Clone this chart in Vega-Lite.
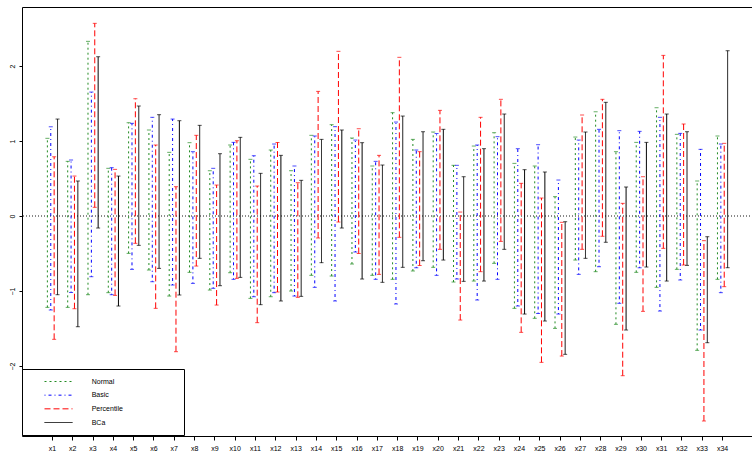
{
  "$schema": "https://vega.github.io/schema/vega-lite/v6.json",
  "width": 731,
  "height": 429,
  "autosize": "none",
  "padding": {"left": 22, "top": 7, "right": 0, "bottom": 17},
  "background": "white",
  "config": {
    "view": {"stroke": "black", "strokeWidth": 1},
    "font": "Liberation Sans",
    "axis": {"grid": false, "domain": false, "tickColor": "black", "labelColor": "black", "labelFont": "Liberation Sans", "labelFontSize": 7, "title": null}
  },
  "data": {"values": [
    {"variable":"x1","method":"Normal","lo":-1.218,"hi":1.036},{"variable":"x1","method":"Basic","lo":-1.253,"hi":1.19},{"variable":"x1","method":"Percentile","lo":-1.644,"hi":0.79},{"variable":"x1","method":"BCa","lo":-1.049,"hi":1.293},
    {"variable":"x2","method":"Normal","lo":-1.218,"hi":0.729},{"variable":"x2","method":"Basic","lo":-1.02,"hi":0.747},{"variable":"x2","method":"Percentile","lo":-1.236,"hi":0.533},{"variable":"x2","method":"BCa","lo":-1.476,"hi":0.467},
    {"variable":"x3","method":"Normal","lo":-1.049,"hi":2.329},{"variable":"x3","method":"Basic","lo":-0.809,"hi":1.653},{"variable":"x3","method":"Percentile","lo":0.116,"hi":2.569},{"variable":"x3","method":"BCa","lo":-0.16,"hi":2.124},
    {"variable":"x4","method":"Normal","lo":-1.022,"hi":0.636},{"variable":"x4","method":"Basic","lo":-1.049,"hi":0.645},{"variable":"x4","method":"Percentile","lo":-1.058,"hi":0.622},{"variable":"x4","method":"BCa","lo":-1.2,"hi":0.533},
    {"variable":"x5","method":"Normal","lo":-0.498,"hi":1.244},{"variable":"x5","method":"Basic","lo":-0.711,"hi":1.236},{"variable":"x5","method":"Percentile","lo":-0.364,"hi":1.564},{"variable":"x5","method":"BCa","lo":-0.391,"hi":1.467},
    {"variable":"x6","method":"Normal","lo":-0.72,"hi":1.147},{"variable":"x6","method":"Basic","lo":-0.876,"hi":1.316},{"variable":"x6","method":"Percentile","lo":-1.231,"hi":0.947},{"variable":"x6","method":"BCa","lo":-0.698,"hi":1.351},
    {"variable":"x7","method":"Normal","lo":-1.067,"hi":0.849},{"variable":"x7","method":"Basic","lo":-0.92,"hi":1.293},{"variable":"x7","method":"Percentile","lo":-1.809,"hi":0.391},{"variable":"x7","method":"BCa","lo":-1.053,"hi":1.271},
    {"variable":"x8","method":"Normal","lo":-0.751,"hi":0.978},{"variable":"x8","method":"Basic","lo":-0.898,"hi":0.858},{"variable":"x8","method":"Percentile","lo":-0.667,"hi":1.076},{"variable":"x8","method":"BCa","lo":-0.564,"hi":1.209},
    {"variable":"x9","method":"Normal","lo":-0.987,"hi":0.604},{"variable":"x9","method":"Basic","lo":-0.964,"hi":0.636},{"variable":"x9","method":"Percentile","lo":-1.187,"hi":0.413},{"variable":"x9","method":"BCa","lo":-0.929,"hi":0.831},
    {"variable":"x10","method":"Normal","lo":-0.756,"hi":0.947},{"variable":"x10","method":"Basic","lo":-0.844,"hi":0.982},{"variable":"x10","method":"Percentile","lo":-0.831,"hi":1.004},{"variable":"x10","method":"BCa","lo":-0.818,"hi":1.049},
    {"variable":"x11","method":"Normal","lo":-1.098,"hi":0.756},{"variable":"x11","method":"Basic","lo":-1.076,"hi":0.804},{"variable":"x11","method":"Percentile","lo":-1.422,"hi":0.4},{"variable":"x11","method":"BCa","lo":-1.182,"hi":0.569},
    {"variable":"x12","method":"Normal","lo":-1.076,"hi":0.88},{"variable":"x12","method":"Basic","lo":-1.022,"hi":0.96},{"variable":"x12","method":"Percentile","lo":-1.013,"hi":0.982},{"variable":"x12","method":"BCa","lo":-1.133,"hi":0.809},
    {"variable":"x13","method":"Normal","lo":-1.0,"hi":0.604},{"variable":"x13","method":"Basic","lo":-1.067,"hi":0.667},{"variable":"x13","method":"Percentile","lo":-1.084,"hi":0.444},{"variable":"x13","method":"BCa","lo":-1.071,"hi":0.476},
    {"variable":"x14","method":"Normal","lo":-0.791,"hi":1.076},{"variable":"x14","method":"Basic","lo":-0.951,"hi":1.067},{"variable":"x14","method":"Percentile","lo":-0.293,"hi":1.662},{"variable":"x14","method":"BCa","lo":-0.622,"hi":1.022},
    {"variable":"x15","method":"Normal","lo":-0.8,"hi":1.218},{"variable":"x15","method":"Basic","lo":-1.133,"hi":1.191},{"variable":"x15","method":"Percentile","lo":-0.08,"hi":2.196},{"variable":"x15","method":"BCa","lo":-0.16,"hi":1.147},
    {"variable":"x16","method":"Normal","lo":-0.64,"hi":1.04},{"variable":"x16","method":"Basic","lo":-0.48,"hi":1.013},{"variable":"x16","method":"Percentile","lo":-0.5,"hi":1.164},{"variable":"x16","method":"BCa","lo":-0.84,"hi":0.978},
    {"variable":"x17","method":"Normal","lo":-0.791,"hi":0.667},{"variable":"x17","method":"Basic","lo":-0.844,"hi":0.729},{"variable":"x17","method":"Percentile","lo":-0.778,"hi":0.809},{"variable":"x17","method":"BCa","lo":-0.884,"hi":0.68},
    {"variable":"x18","method":"Normal","lo":-0.844,"hi":1.378},{"variable":"x18","method":"Basic","lo":-1.173,"hi":1.253},{"variable":"x18","method":"Percentile","lo":-0.284,"hi":2.116},{"variable":"x18","method":"BCa","lo":-0.684,"hi":1.333},
    {"variable":"x19","method":"Normal","lo":-0.733,"hi":1.022},{"variable":"x19","method":"Basic","lo":-0.69,"hi":0.88},{"variable":"x19","method":"Percentile","lo":-0.66,"hi":0.858},{"variable":"x19","method":"BCa","lo":-0.596,"hi":1.124},
    {"variable":"x20","method":"Normal","lo":-0.684,"hi":1.12},{"variable":"x20","method":"Basic","lo":-0.791,"hi":1.1},{"variable":"x20","method":"Percentile","lo":-0.444,"hi":1.409},{"variable":"x20","method":"BCa","lo":-0.587,"hi":1.156},
    {"variable":"x21","method":"Normal","lo":-0.88,"hi":0.676},{"variable":"x21","method":"Basic","lo":-0.84,"hi":0.676},{"variable":"x21","method":"Percentile","lo":-1.387,"hi":0.053},{"variable":"x21","method":"BCa","lo":-0.871,"hi":0.524},
    {"variable":"x22","method":"Normal","lo":-0.867,"hi":0.933},{"variable":"x22","method":"Basic","lo":-1.12,"hi":0.947},{"variable":"x22","method":"Percentile","lo":-0.742,"hi":1.316},{"variable":"x22","method":"BCa","lo":-0.867,"hi":0.898},
    {"variable":"x23","method":"Normal","lo":-0.631,"hi":1.111},{"variable":"x23","method":"Basic","lo":-0.844,"hi":1.058},{"variable":"x23","method":"Percentile","lo":-0.338,"hi":1.556},{"variable":"x23","method":"BCa","lo":-0.444,"hi":1.36},
    {"variable":"x24","method":"Normal","lo":-1.231,"hi":0.702},{"variable":"x24","method":"Basic","lo":-1.2,"hi":0.898},{"variable":"x24","method":"Percentile","lo":-1.551,"hi":0.436},{"variable":"x24","method":"BCa","lo":-1.307,"hi":0.618},
    {"variable":"x25","method":"Normal","lo":-1.364,"hi":0.667},{"variable":"x25","method":"Basic","lo":-1.3,"hi":0.951},{"variable":"x25","method":"Percentile","lo":-1.951,"hi":0.24},{"variable":"x25","method":"BCa","lo":-1.4,"hi":0.587},
    {"variable":"x26","method":"Normal","lo":-1.498,"hi":0.258},{"variable":"x26","method":"Basic","lo":-1.307,"hi":0.48},{"variable":"x26","method":"Percentile","lo":-1.867,"hi":-0.084},{"variable":"x26","method":"BCa","lo":-1.844,"hi":-0.076},
    {"variable":"x27","method":"Normal","lo":-0.587,"hi":1.053},{"variable":"x27","method":"Basic","lo":-0.778,"hi":1.013},{"variable":"x27","method":"Percentile","lo":-0.444,"hi":1.347},{"variable":"x27","method":"BCa","lo":-0.564,"hi":1.12},
    {"variable":"x28","method":"Normal","lo":-0.742,"hi":1.39},{"variable":"x28","method":"Basic","lo":-0.676,"hi":1.156},{"variable":"x28","method":"Percentile","lo":-0.27,"hi":1.556},{"variable":"x28","method":"BCa","lo":-0.35,"hi":1.516},
    {"variable":"x29","method":"Normal","lo":-1.444,"hi":0.858},{"variable":"x29","method":"Basic","lo":-1.164,"hi":1.138},{"variable":"x29","method":"Percentile","lo":-2.129,"hi":0.169},{"variable":"x29","method":"BCa","lo":-1.52,"hi":0.387},
    {"variable":"x30","method":"Normal","lo":-0.751,"hi":0.982},{"variable":"x30","method":"Basic","lo":-0.69,"hi":1.129},{"variable":"x30","method":"Percentile","lo":-1.271,"hi":0.524},{"variable":"x30","method":"BCa","lo":-0.68,"hi":0.982},
    {"variable":"x31","method":"Normal","lo":-0.951,"hi":1.444},{"variable":"x31","method":"Basic","lo":-1.267,"hi":1.316},{"variable":"x31","method":"Percentile","lo":-0.431,"hi":2.142},{"variable":"x31","method":"BCa","lo":-0.867,"hi":1.36},
    {"variable":"x32","method":"Normal","lo":-0.711,"hi":1.089},{"variable":"x32","method":"Basic","lo":-0.853,"hi":1.102},{"variable":"x32","method":"Percentile","lo":-0.653,"hi":1.227},{"variable":"x32","method":"BCa","lo":-0.658,"hi":1.124},
    {"variable":"x33","method":"Normal","lo":-1.791,"hi":0.467},{"variable":"x33","method":"Basic","lo":-1.52,"hi":0.889},{"variable":"x33","method":"Percentile","lo":-2.733,"hi":-0.329},{"variable":"x33","method":"BCa","lo":-1.689,"hi":-0.276},
    {"variable":"x34","method":"Normal","lo":-0.844,"hi":1.067},{"variable":"x34","method":"Basic","lo":-1.022,"hi":0.96},{"variable":"x34","method":"Percentile","lo":-0.942,"hi":0.969},{"variable":"x34","method":"BCa","lo":-0.689,"hi":2.204}
  ]},
  "encoding": {
    "x": {"field": "variable", "type": "nominal", "sort": null,
      "scale": {"domain": ["x1","x2","x3","x4","x5","x6","x7","x8","x9","x10","x11","x12","x13","x14","x15","x16","x17","x18","x19","x20","x21","x22","x23","x24","x25","x26","x27","x28","x29","x30","x31","x32","x33","x34"], "paddingInner": 0, "paddingOuter": 1.1},
      "axis": {"labelAngle": 0, "tickSize": 4, "labelPadding": 4, "labelBaseline": "top"}},
    "xOffset": {"field": "method", "type": "nominal", "scale": {"domain": ["Normal","Basic","Percentile","BCa"], "paddingInner": 0, "paddingOuter": 1.37}}
  },
  "layer": [
    {
      "mark": {"type": "rule", "strokeDash": [1, 2], "color": "#8a8a8a", "strokeWidth": 0.8},
      "encoding": {"y": {"datum": 0, "type": "quantitative"}, "x": null, "xOffset": null}
    },
    {
      "mark": {"type": "rule", "strokeWidth": 1},
      "encoding": {
        "y": {"field": "lo", "type": "quantitative", "scale": {"domain": [-2.933, 2.787], "nice": false, "zero": false},
          "axis": {"values": [-2, -1, 0, 1, 2], "format": "d", "labelAngle": -90, "labelAlign": "center", "labelBaseline": "bottom", "tickSize": 3, "labelPadding": 3.5}},
        "y2": {"field": "hi"},
        "color": {"field": "method", "type": "nominal",
          "scale": {"domain": ["Normal","Basic","Percentile","BCa"], "range": ["#228B22","#0000FF","#FF0000","#000000"]},
          "legend": {"orient": "none", "legendX": 0, "legendY": 362, "title": ".", "titleOrient": "right", "titleColor": "white", "titleFontSize": 7, "titlePadding": 50, "symbolType": "M-14,0H14", "symbolSize": 76.6, "symbolStrokeWidth": 1, "strokeColor": "black", "fillColor": "white", "padding": 9, "rowPadding": 5.67, "symbolOffset": 24, "labelOffset": 29.7, "labelFontSize": 7, "labelFont": "Liberation Sans", "labelColor": "black", "labelLimit": 300,
            "encode": {"symbols": {"update": {"angle": {"value": 0}}}}}},
        "strokeDash": {"field": "method", "type": "nominal", "scale": {"domain": ["Normal","Basic","Percentile","BCa"], "range": [[2,3],[1,3,3,3],[6,3],[1,0]]}}
      }
    },
    {
      "mark": {"type": "tick", "thickness": 1},
      "encoding": {
        "y": {"field": "lo", "type": "quantitative"},
        "fill": {"field": "method", "type": "nominal", "scale": {"domain": ["Normal","Basic","Percentile","BCa"], "range": ["#228B22","#0000FF","#FF0000","#000000"]}, "legend": null},
        "size": {"field": "method", "type": "nominal", "scale": {"domain": ["Normal","Basic","Percentile","BCa"], "range": [4, 4, 4, 7]}, "legend": null}
      }
    },
    {
      "mark": {"type": "tick", "thickness": 1},
      "encoding": {
        "y": {"field": "hi", "type": "quantitative"},
        "fill": {"field": "method", "type": "nominal", "scale": {"domain": ["Normal","Basic","Percentile","BCa"], "range": ["#228B22","#0000FF","#FF0000","#000000"]}, "legend": null},
        "size": {"field": "method", "type": "nominal", "scale": {"domain": ["Normal","Basic","Percentile","BCa"], "range": [4, 4, 4, 7]}, "legend": null}
      }
    }
  ]
}
